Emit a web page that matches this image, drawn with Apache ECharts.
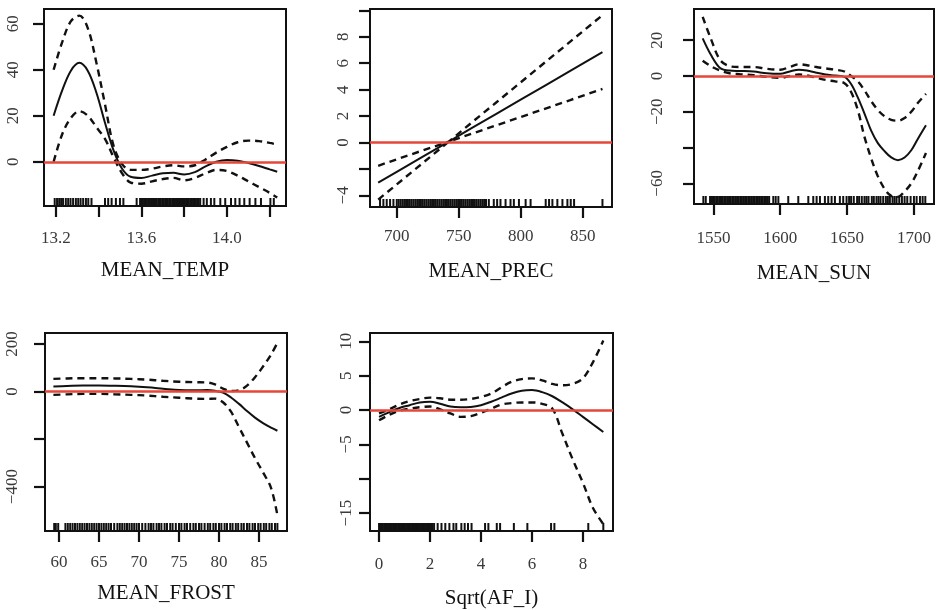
<!DOCTYPE html>
<html><head><meta charset="utf-8">
<script src="https://cdn.jsdelivr.net/npm/echarts@6/dist/echarts.min.js"></script>
<style>html,body{margin:0;padding:0;background:#fff}#c{width:938px;height:610px}</style>
</head><body><div id="c"></div>
<script>
// ---------- MEAN_TEMP ----------
const tempX   = [13.19, 13.23, 13.27, 13.31, 13.35, 13.39, 13.43, 13.47, 13.51, 13.55, 13.6, 13.65, 13.7, 13.75, 13.8, 13.85, 13.9, 13.95, 14.0, 14.05, 14.1, 14.15, 14.2, 14.235];
const tempFit = [20, 31, 39.5, 43, 39.5, 30, 17, 5, -3, -6.5, -7, -6, -5, -4.8, -5.5, -4.5, -2, 0, 0.8, 0.5, -0.5, -1.8, -3.3, -4.3];
const tempUp  = [40, 52, 61, 63.5, 58, 43, 25, 7, -1, -3.5, -3.5, -3, -2, -1.5, -2, -1.5, 1, 4, 6.5, 8.5, 9.2, 9, 8.2, 7.5];
const tempLo  = [0, 12, 19, 22, 20, 15, 10, 2, -5, -9, -9.5, -8.5, -7.5, -7, -8, -7, -5, -3.5, -4, -6, -8.5, -11, -13.5, -15.5];
const tempRug = [13.195, 13.206, 13.216, 13.225, 13.234, 13.247, 13.258, 13.269, 13.281, 13.294, 13.305, 13.316, 13.328, 13.341, 13.352, 13.367, 13.43, 13.445, 13.461, 13.481, 13.5, 13.516, 13.578,
  13.594, 13.6, 13.607, 13.613, 13.62, 13.626, 13.633, 13.64, 13.646, 13.652, 13.659, 13.665, 13.672, 13.679, 13.685, 13.691, 13.698, 13.704, 13.711, 13.718, 13.724, 13.731, 13.737, 13.744, 13.75, 13.757, 13.763, 13.77, 13.776, 13.783, 13.79, 13.796, 13.803, 13.809, 13.816, 13.822, 13.829, 13.836, 13.842, 13.849, 13.855, 13.862, 13.868, 13.875,
  13.891, 13.906, 13.925, 13.941, 13.969, 13.992, 14.019, 14.039, 14.059, 14.081, 14.106, 14.133, 14.159, 14.203, 14.219];
const tempXTicks = [13.2, 13.4, 13.6, 13.8, 14.0, 14.2];
const tempXLabels = [13.2, 13.6, 14.0];
const tempYTicks = [0, 20, 40, 60];
const tempYLabels = [0, 20, 40, 60];

// ---------- MEAN_PREC ----------
const precX   = [685, 700, 720, 742, 760, 780, 800, 820, 840, 866];
const precFit = [-3.04, -2.22, -1.13, 0.07, 1.06, 2.15, 3.24, 4.33, 5.42, 6.84];
const precUp  = [-1.76, -1.27, -0.63, 0.07, 1.47, 3.01, 4.55, 6.09, 7.63, 9.63];
const precLo  = [-4.32, -3.17, -1.63, 0.07, 0.65, 1.29, 1.93, 2.57, 3.21, 4.05];
const precRug = [686.5, 689.2, 691.9, 694.6, 697.3, 700, 701.5, 703, 704.5, 706, 707.5, 709, 710.5, 712, 713.5, 715, 716.5, 718, 719.5, 721, 722.5, 724, 725.5, 727, 728.5, 730, 731.5, 733, 734.5, 736, 737.5, 739, 740.5, 742, 743.5, 745, 746.5, 748, 749.5, 751, 752.5, 754, 755.5, 757, 758.5, 760, 761.5, 763, 764.5, 766, 767.5, 769, 770.5, 772,
  774.3, 778.3, 781, 783.7, 787.8, 791.8, 794.5, 798.6, 804, 808, 820.2, 822.9, 825.6, 829.6, 833.7, 837.7, 840.4, 843.1, 866];
const precXTicks = [700, 750, 800, 850];
const precXLabels = [700, 750, 800, 850];
const precYTicks = [-4, -2, 0, 2, 4, 6, 8, 10];
const precYLabels = [-4, 0, 2, 4, 6, 8];

// ---------- MEAN_SUN ----------
const sunX   = [1542, 1548, 1555, 1562, 1570, 1580, 1590, 1600, 1607, 1614, 1620, 1627, 1634, 1641, 1648, 1653, 1658, 1663, 1668, 1673, 1678, 1683, 1688, 1693, 1698, 1703, 1709];
const sunFit = [21, 12, 4.5, 3, 2.8, 2.5, 1.5, 1.2, 2.5, 3.5, 3, 1.8, 0.8, 0.2, -0.5, -4.5, -12, -21, -30.5, -37.5, -42, -45.5, -47, -45.5, -41.5, -35, -27.5];
const sunUp  = [33, 21, 9, 5.5, 5, 5, 4, 3.5, 5, 6.5, 6, 5, 4.2, 3.5, 2.5, 0, -3, -8, -14, -19, -22.5, -24.5, -25, -23.5, -20, -15, -10];
const sunLo  = [8.5, 5.5, 3, 1.5, 1, 0.5, -0.5, -1, 0, 0.8, 0.3, -1, -2.2, -3, -4, -9, -19, -34, -46, -56, -63, -67, -67.5, -64.5, -60, -53, -43];
const sunRug = [1542.5, 1544.3, 1547.5, 1548.5, 1549.7, 1550.9, 1552.1, 1553.3, 1554.5, 1555.7, 1556.9, 1558.1, 1559.3, 1560.5, 1561.7, 1562.9, 1564.1, 1565.3, 1566.5, 1567.7, 1568.9, 1570.1, 1571.3, 1572.5, 1573.7, 1574.9, 1576.1, 1577.3, 1578.5, 1579.7, 1580.9, 1582.1, 1583.3, 1584.5, 1585.7, 1586.9, 1588.1, 1589.3, 1590.5, 1591.7,
  1594.8, 1596.6, 1598.6, 1606, 1613.5, 1621, 1624.7, 1627.2, 1629.7, 1633.4, 1635.9, 1638.4, 1640.9, 1644.6, 1647.1, 1649.6, 1651.5, 1653, 1655, 1657.5, 1659, 1661, 1663, 1664.5, 1666, 1668.5, 1670, 1672, 1673.5, 1675, 1677, 1679, 1680.5, 1682, 1684, 1685.5, 1687, 1689, 1691, 1693, 1695, 1697.5, 1700, 1702, 1704.5, 1706.5, 1708.5];
const sunXTicks = [1550, 1600, 1650, 1700];
const sunXLabels = [1550, 1600, 1650, 1700];
const sunYTicks = [-60, -40, -20, 0, 20];
const sunYLabels = [-60, -20, 0, 20];

// ---------- MEAN_FROST ----------
const frostX   = [59.3, 61, 63, 65, 67, 69, 71, 73, 75, 77, 78.5, 79.5, 80.5, 81.5, 82.5, 83.5, 84.5, 85.5, 86.5, 87.3];
const frostFit = [21, 23, 25, 25, 24, 22, 18, 12, 6, 5, 6, 3, -5, -25, -52, -82, -110, -133, -152, -165];
const frostUp  = [53, 55, 56, 56, 55, 53, 50, 45, 41, 39, 38, 30, 12, 2, 5, 25, 60, 105, 155, 205];
const frostLo  = [-14, -12, -10, -10, -12, -14, -17, -22, -26, -30, -31, -30, -45, -85, -150, -215, -280, -340, -405, -520];
const frostRug = [59.4, 59.6, 59.9, 60.8, 61.1, 61.4, 61.7, 62.0, 62.3, 62.6, 62.9, 63.2, 63.5, 63.8, 64.1, 64.4, 64.7, 65.0, 65.3, 65.6, 65.9, 66.2, 66.5, 66.9, 67.3, 67.6, 67.9, 68.2, 68.5, 68.8, 69.1, 69.4, 69.7, 70.0, 70.4, 70.8, 71.2, 71.5, 71.8, 72.2, 72.5, 72.8, 73.2, 73.5, 73.9, 74.2, 74.6, 75.0, 75.3, 75.7, 76.0, 76.4, 76.8, 77.1, 77.5, 77.8, 78.2, 78.6, 78.9, 79.3, 79.6, 80.0, 80.3, 80.7, 81.0, 81.4, 81.7, 82.1, 82.4, 82.8, 83.1, 83.5, 83.8, 84.2, 84.5, 84.9, 85.2, 85.6, 85.9, 86.3, 86.6, 87.0, 87.3];
const frostXTicks = [60, 65, 70, 75, 80, 85];
const frostXLabels = [60, 65, 70, 75, 80, 85];
const frostYTicks = [-400, -200, 0, 200];
const frostYLabels = [-400, 0, 200];

// ---------- Sqrt(AF_I) ----------
const afX   = [0, 0.4, 0.8, 1.2, 1.6, 2.0, 2.4, 2.8, 3.2, 3.6, 4.0, 4.4, 4.8, 5.2, 5.6, 6.0, 6.4, 6.8, 7.2, 7.6, 8.0, 8.4, 8.8];
const afFit = [-1, -0.3, 0.3, 0.7, 1.1, 1.2, 0.9, 0.5, 0.4, 0.45, 0.7, 1.2, 1.8, 2.4, 2.8, 2.9, 2.6, 2.0, 1.1, 0.1, -1.0, -2.1, -3.2];
const afUp  = [-0.5, 0.1, 0.8, 1.3, 1.6, 1.8, 1.7, 1.5, 1.5, 1.6, 1.9, 2.4, 3.3, 4.1, 4.5, 4.6, 4.3, 3.8, 3.6, 3.8, 4.6, 7.0, 10.1];
const afLo  = [-1.5, -0.7, -0.1, 0.2, 0.4, 0.5, 0.1, -0.5, -1.0, -0.9, -0.4, 0.2, 0.8, 1.0, 1.1, 1.1, 0.9, 0.2, -3.5, -7.2, -10.6, -14.3, -16.6];
const afRug = [0, 0.05, 0.1, 0.15, 0.2, 0.25, 0.3, 0.35, 0.4, 0.45, 0.5, 0.55, 0.6, 0.65, 0.7, 0.75, 0.8, 0.85, 0.9, 0.95, 1.0, 1.05, 1.1, 1.15, 1.2, 1.25, 1.3, 1.35, 1.4, 1.45, 1.5, 1.55, 1.6, 1.65, 1.7, 1.75, 1.8, 1.85, 1.9, 1.95, 2.0, 2.05, 2.1, 2.16,
  2.3, 2.45, 2.6, 2.76, 2.92, 3.03, 3.23, 3.36, 3.49, 3.63, 4.16, 4.29, 4.62, 4.75, 5.29, 5.82, 6.75, 6.88, 8.21, 8.8];
const afXTicks = [0, 2, 4, 6, 8];
const afXLabels = [0, 2, 4, 6, 8];
const afYTicks = [-15, -10, -5, 0, 5, 10];
const afYLabels = [-15, -5, 0, 5, 10];

// ---------- layout ----------
const panels = [
  {name:'MEAN_TEMP', x:tempX, fit:tempFit, up:tempUp, lo:tempLo, rug:tempRug, xt:tempXTicks, xl:tempXLabels, yt:tempYTicks, yl:tempYLabels,
   box:{left:44, top:9, width:242, height:197}, xr:[13.145, 14.276], yr:[-19.2, 66.4], dec:1, smooth:0.35, xm:24, ym:22, ng:54},
  {name:'MEAN_PREC', x:precX, fit:precFit, up:precUp, lo:precLo, rug:precRug, xt:precXTicks, xl:precXLabels, yt:precYTicks, yl:precYLabels,
   box:{left:370, top:9, width:242, height:198}, xr:[678.4, 873.7], yr:[-4.88, 10.1], dec:0, smooth:false, xm:21, ym:18, ng:54},
  {name:'MEAN_SUN', x:sunX, fit:sunFit, up:sunUp, lo:sunLo, rug:sunRug, xt:sunXTicks, xl:sunXLabels, yt:sunYTicks, yl:sunYLabels,
   box:{left:694, top:9, width:240, height:195}, xr:[1535.5, 1715], yr:[-71.5, 37.4], dec:0, smooth:0.35, xm:26, ym:28, ng:59},
  {name:'MEAN_FROST', x:frostX, fit:frostFit, up:frostUp, lo:frostLo, rug:frostRug, xt:frostXTicks, xl:frostXLabels, yt:frostYTicks, yl:frostYLabels,
   box:{left:45, top:333, width:242, height:198}, xr:[58.25, 88.5], yr:[-586.5, 246], dec:0, smooth:0.35, xm:23, ym:24, ng:52},
  {name:'Sqrt(AF_I)', x:afX, fit:afFit, up:afUp, lo:afLo, rug:afRug, xt:afXTicks, xl:afXLabels, yt:afYTicks, yl:afYLabels,
   box:{left:370, top:333, width:243, height:198}, xr:[-0.355, 9.18], yr:[-17.6, 11.2], dec:0, smooth:0.35, xm:25, ym:15, ng:57}
];

const serif = '"Liberation Serif", "DejaVu Serif", serif';
const fmt = dec => v => { const s = Math.abs(v).toFixed(dec); return v < 0 ? '\u2212' + s : s; };
const zip = (a, b) => a.map((v, i) => [v, b[i]]);

const grid = [], xAxis = [], yAxis = [], series = [];
panels.forEach((p, i) => {
  grid.push(Object.assign({show:true, borderColor:'#111', borderWidth:2, backgroundColor:'transparent', containLabel:false, outerBoundsMode:'none'}, p.box));
  xAxis.push({
    type:'value', gridIndex:i, min:p.xr[0], max:p.xr[1], position:'bottom',
    axisLine:{show:false, onZero:false}, splitLine:{show:false},
    axisTick:{show:true, inside:false, length:11, lineStyle:{color:'#111', width:2.2}, customValues:p.xt},
    axisLabel:{show:true, customValues:p.xl, formatter:fmt(p.dec), margin:p.xm, fontFamily:serif, fontSize:17, color:'#3a3a3a'},
    name:p.name, nameLocation:'middle', nameGap:p.ng,
    nameTextStyle:{fontFamily:serif, fontSize:21, color:'#111'}
  });
  yAxis.push({
    type:'value', gridIndex:i, min:p.yr[0], max:p.yr[1], position:'left',
    axisLine:{show:false, onZero:false}, splitLine:{show:false},
    axisTick:{show:true, inside:false, length:11, lineStyle:{color:'#111', width:2.2}, customValues:p.yt},
    axisLabel:{show:true, customValues:p.yl, formatter:fmt(0), rotate:90, margin:p.ym, fontFamily:serif, fontSize:17, color:'#3a3a3a'}
  });
  const yMin = p.yr[0];
  series.push({
    type:'custom', xAxisIndex:i, yAxisIndex:i, silent:true, z:3,
    data:p.rug.map(v => [v, yMin]),
    encode:{x:0, y:1},
    renderItem:(params, api) => {
      const pt = api.coord([api.value(0), yMin]);
      return {type:'line', shape:{x1:pt[0], y1:pt[1] - 1, x2:pt[0], y2:pt[1] - 8}, style:{stroke:'#111', lineWidth:2}};
    }
  });
  const common = {type:'line', xAxisIndex:i, yAxisIndex:i, showSymbol:false, symbol:'none', silent:true, smooth:p.smooth, z:4};
  series.push(Object.assign({}, common, {data:zip(p.x, p.up), lineStyle:{color:'#111', width:2.4, type:[7,5]}}));
  series.push(Object.assign({}, common, {data:zip(p.x, p.lo), lineStyle:{color:'#111', width:2.4, type:[7,5]}}));
  series.push(Object.assign({}, common, {data:zip(p.x, p.fit), lineStyle:{color:'#111', width:2}}));
  series.push({
    type:'line', xAxisIndex:i, yAxisIndex:i, data:[], silent:true, z:5,
    markLine:{silent:true, symbol:'none', animation:false, label:{show:false},
      lineStyle:{color:'#e5473a', width:2.5, type:'solid'}, data:[{yAxis:0}]}
  });
});

const chart = echarts.init(document.getElementById('c'), null, {renderer:'canvas'});
chart.setOption({animation:false, backgroundColor:'#fff', grid, xAxis, yAxis, series});
</script></body></html>
